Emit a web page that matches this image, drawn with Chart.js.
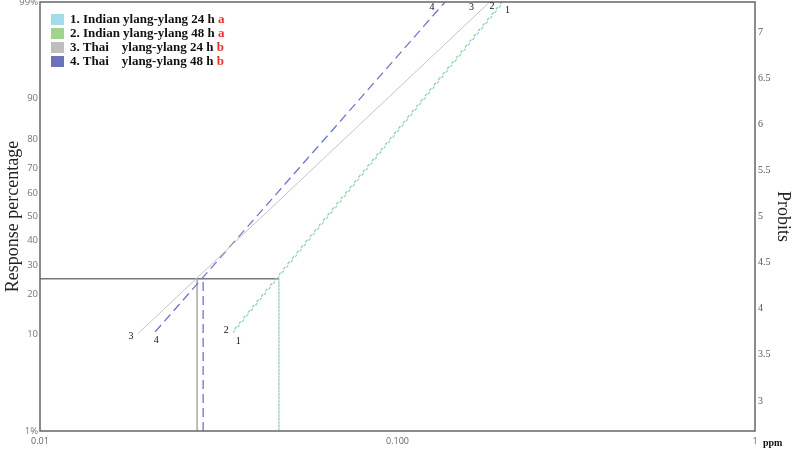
<!DOCTYPE html>
<html>
<head>
<meta charset="utf-8">
<script src="https://cdn.jsdelivr.net/npm/chart.js@4.4.1/dist/chart.umd.min.js"></script>
<style>
  html, body { margin: 0; padding: 0; background: #fff; }
  #wrap { position: relative; width: 794px; height: 449px; }
  #legend { position: absolute; left: 51px; top: 12px; font: bold 13px "Liberation Serif", serif; color: #111; }
  .row { height: 14px; line-height: 14px; white-space: pre; display: flex; align-items: center; }
  .box { width: 13px; height: 11px; margin-right: 6px; }
  .sig { color: #e8322a; }
</style>
</head>
<body>
<div id="wrap">
  <canvas id="probitChart" width="794" height="449"></canvas>
  <div id="legend"></div>
</div>
<script>
// series: dose in ppm, response in probits
const seriesNames = ['1. Indian ylang-ylang 24 h', '2. Indian ylang-ylang 48 h', '3. Thai    ylang-ylang 24 h', '4. Thai    ylang-ylang 48 h'];
const sigLetters = ['a', 'a', 'b', 'b'];
const startDose = [0.0347, 0.0345, 0.0188, 0.0210];
const endDose = [0.198, 0.196, 0.181, 0.1358];
const startProbit = [3.74, 3.75, 3.73, 3.75];
const endProbit = [7.326, 7.326, 7.326, 7.326];
const lc25Dose = [0.0466, 0.0466, 0.0275, 0.0286];
const lcPercent = 25;

const pctTicks = [1, 10, 20, 30, 40, 50, 60, 70, 80, 90, 99];
const pctLabels = ['1%', '10', '20', '30', '40', '50', '60', '70', '80', '90', '99%'];
const probitTicks = [3, 3.5, 4, 4.5, 5, 5.5, 6, 6.5, 7];
const doseTicks = [0.01, 0.1, 1];
const doseLabels = ['0.01', '0.100', '1'];

const lineColors = ['#8cd6e6', '#98d089', '#c4c4c4', '#7077cc'];
const boxColors = ['#a4dbe9', '#a1d38e', '#bebebe', '#6b72b9'];

// inverse normal (Acklam), returned as probit = z + 5
function probit(pct) {
  const p = pct / 100;
  const a = [-39.69683028665376, 220.9460984245205, -275.9285104469687, 138.357751867269, -30.66479806614716, 2.506628277459239];
  const b = [-54.47609879822406, 161.5858368580409, -155.6989798598866, 66.80131188771972, -13.28068155288572];
  const c = [-0.007784894002430293, -0.3223964580411365, -2.400758277161838, -2.549732539343734, 4.374664141464968, 2.938163982698783];
  const d = [0.007784695709041462, 0.3224671290700398, 2.445134137142996, 3.754408145705703];
  let z, q, r;
  if (p < 0.02425) {
    q = Math.sqrt(-2 * Math.log(p));
    z = (((((c[0]*q+c[1])*q+c[2])*q+c[3])*q+c[4])*q+c[5]) / ((((d[0]*q+d[1])*q+d[2])*q+d[3])*q+1);
  } else if (p <= 1 - 0.02425) {
    q = p - 0.5; r = q * q;
    z = (((((a[0]*r+a[1])*r+a[2])*r+a[3])*r+a[4])*r+a[5])*q / (((((b[0]*r+b[1])*r+b[2])*r+b[3])*r+b[4])*r+1);
  } else {
    q = Math.sqrt(-2 * Math.log(1 - p));
    z = -(((((c[0]*q+c[1])*q+c[2])*q+c[3])*q+c[4])*q+c[5]) / ((((d[0]*q+d[1])*q+d[2])*q+d[3])*q+1);
  }
  return z + 5;
}

const yMin = probit(1);
const yMax = probit(99);
const yLc = probit(lcPercent);

// legend
const legendEl = document.getElementById('legend');
seriesNames.forEach((name, i) => {
  const row = document.createElement('div');
  row.className = 'row';
  row.innerHTML = `<span class="box" style="background:${boxColors[i]}"></span><span>${name} </span><span class="sig">${sigLetters[i]}</span>`;
  legendEl.appendChild(row);
});

const dashes = [[3, 4], [3, 4], [], [9, 5]];
const dashOffsets = [0, 3.5, 0, 0];

let datasets = seriesNames.map((name, i) => ({
  label: name,
  data: [{ x: startDose[i], y: startProbit[i] }, { x: endDose[i], y: endProbit[i] }],
  borderColor: lineColors[i],
  borderWidth: i === 2 ? 1 : 1.3,
  borderDash: dashes[i],
  borderDashOffset: dashOffsets[i],
  pointRadius: 0,
  fill: false
}));

// drop lines at the LC25 of each series
seriesNames.forEach((name, i) => {
  datasets.push({
    label: 'lc ' + name,
    data: [{ x: lc25Dose[i], y: yMin }, { x: lc25Dose[i], y: yLc }],
    borderColor: i === 2 ? '#999' : lineColors[i],
    borderWidth: 1.3,
    borderDash: dashes[i],
    borderDashOffset: dashOffsets[i],
    pointRadius: 0,
    fill: false
  });
});
datasets.push({
  label: 'lc25',
  data: [{ x: doseTicks[0], y: yLc }, { x: Math.max(...lc25Dose), y: yLc }],
  borderColor: '#777',
  borderWidth: 1.5,
  pointRadius: 0,
  fill: false
});

// number tags at the line ends (pixel offsets only)
const startTagOffset = [[5, 9], [-6, -1], [-7, 3], [1, 9]];
const endTagOffset = [[4, 8], [-10, 4], [-18, 5], [-13, 5]];

const extras = {
  id: 'extras',
  afterDatasetsDraw(chart) {
    const { ctx, chartArea, scales } = chart;
    ctx.save();
    ctx.strokeStyle = '#666';
    ctx.lineWidth = 1.5;
    ctx.strokeRect(chartArea.left, chartArea.top, chartArea.right - chartArea.left, chartArea.bottom - chartArea.top);

    ctx.fillStyle = '#111';
    ctx.font = '10px "Liberation Serif", serif';
    ctx.textAlign = 'center';
    ctx.textBaseline = 'middle';
    seriesNames.forEach((name, i) => {
      const sx = scales.x.getPixelForValue(startDose[i]);
      const sy = scales.y.getPixelForValue(startProbit[i]);
      ctx.fillText(String(i + 1), sx + startTagOffset[i][0], sy + startTagOffset[i][1]);
      const ex = scales.x.getPixelForValue(endDose[i]);
      const ey = scales.y.getPixelForValue(endProbit[i]);
      ctx.fillText(String(i + 1), ex + endTagOffset[i][0], ey + endTagOffset[i][1]);
    });

    ctx.font = 'bold 10px "Liberation Serif", serif';
    ctx.textAlign = 'left';
    ctx.fillText('ppm', chartArea.right + 8, chartArea.bottom + 12);
    ctx.restore();
  }
};

new Chart(document.getElementById('probitChart').getContext('2d'), {
  type: 'line',
  data: { datasets: datasets },
  options: {
    responsive: false,
    animation: false,
    layout: { padding: { top: 2, left: 0, right: 0, bottom: 0 } },
    plugins: { legend: { display: false }, tooltip: { enabled: false } },
    scales: {
      x: {
        type: 'logarithmic',
        min: 0.01,
        max: 1,
        grid: { display: false, drawTicks: false },
        border: { display: false },
        afterBuildTicks: s => { s.ticks = doseTicks.map(v => ({ value: v })); },
        afterFit: s => { s.height = 18; s.paddingLeft = 0; s.paddingRight = 0; },
        ticks: {
          autoSkip: false,
          maxRotation: 0,
          padding: 5,
          color: '#666',
          font: { family: 'Open Sans, sans-serif', size: 9 },
          callback: (v, i) => doseLabels[i]
        }
      },
      y: {
        type: 'linear',
        position: 'left',
        min: yMin,
        max: yMax,
        grid: { display: false, drawTicks: false },
        border: { display: false },
        afterBuildTicks: s => { s.ticks = pctTicks.map(p => ({ value: probit(p) })); },
        afterFit: s => { s.width = 40; s.paddingTop = 0; s.paddingBottom = 0; },
        ticks: {
          autoSkip: false,
          padding: 2,
          color: '#777',
          font: { family: 'Open Sans, sans-serif', size: 9.5 },
          callback: (v, i) => pctLabels[i]
        },
        title: {
          display: true,
          text: 'Response percentage',
          color: '#222',
          padding: { top: 2, bottom: 0 },
          font: { family: 'Liberation Serif, serif', size: 18 }
        }
      },
      y2: {
        type: 'linear',
        position: 'right',
        min: yMin,
        max: yMax,
        grid: { display: false, drawTicks: false },
        border: { display: false },
        afterBuildTicks: s => { s.ticks = probitTicks.map(v => ({ value: v })); },
        afterFit: s => { s.width = 39; s.paddingTop = 0; s.paddingBottom = 0; },
        ticks: {
          autoSkip: false,
          padding: 3,
          color: '#555',
          font: { family: 'Liberation Serif, serif', size: 10 },
          callback: v => String(v)
        },
        title: {
          display: true,
          text: 'Probits',
          color: '#222',
          padding: { top: 0, bottom: 0 },
          font: { family: 'Liberation Serif, serif', size: 18 }
        }
      }
    }
  },
  plugins: [extras]
});
</script>
</body>
</html>
